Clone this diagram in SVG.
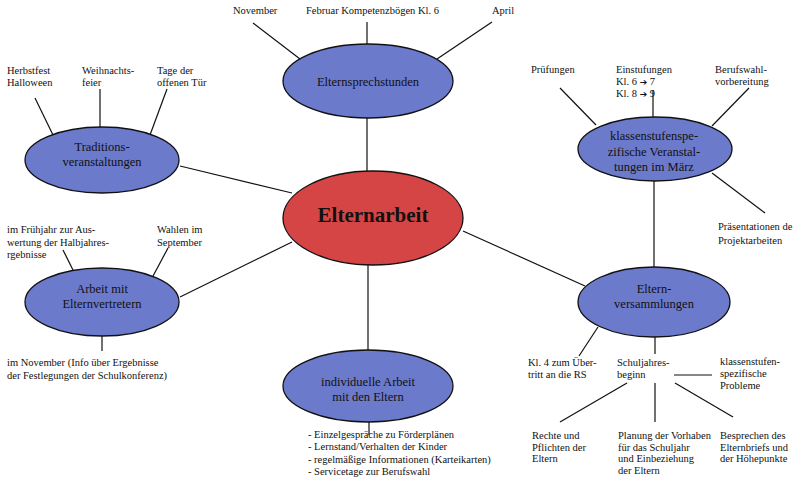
<svg xmlns="http://www.w3.org/2000/svg" width="801" height="481" viewBox="0 0 801 481">
<style>
.n{fill:#6c7acb;stroke:#111;stroke-width:1.3}
.c{fill:#d64545;stroke:#111;stroke-width:1.3}
.l{stroke:#111;stroke-width:1.2;fill:none}
text{font-family:"Liberation Serif","Times New Roman",serif;fill:#111}
.s{font-size:10.5px}
.m{font-size:12.5px;text-anchor:middle}
.b{font-size:21px;font-weight:bold;text-anchor:middle}
.a{font-family:"DejaVu Sans",sans-serif;font-size:9px}
</style>
<rect width="801" height="481" fill="#fff"/>
<g id="connectors">
<line class="l" x1="367" y1="117" x2="367" y2="171"/>
<line class="l" x1="253" y1="23" x2="300" y2="59"/>
<line class="l" x1="367" y1="22" x2="367" y2="44"/>
<line class="l" x1="492" y1="22" x2="437" y2="59"/>
<line class="l" x1="180" y1="166" x2="292" y2="193"/>
<line class="l" x1="35" y1="98" x2="53" y2="135"/>
<line class="l" x1="100" y1="89" x2="100" y2="128"/>
<line class="l" x1="167" y1="89" x2="150" y2="135"/>
<line class="l" x1="180" y1="297" x2="292" y2="242"/>
<line class="l" x1="63" y1="250" x2="73" y2="270"/>
<line class="l" x1="168" y1="248" x2="152" y2="278"/>
<line class="l" x1="102" y1="335" x2="102" y2="351"/>
<line class="l" x1="368" y1="265" x2="368" y2="350"/>
<line class="l" x1="369" y1="422" x2="369" y2="435"/>
<line class="l" x1="463" y1="231" x2="585" y2="286"/>
<line class="l" x1="560" y1="88" x2="596" y2="125"/>
<line class="l" x1="653" y1="90" x2="653" y2="117"/>
<line class="l" x1="749" y1="88" x2="712" y2="126"/>
<line class="l" x1="712" y1="173" x2="765" y2="213"/>
<line class="l" x1="654" y1="181" x2="654" y2="267"/>
<line class="l" x1="598" y1="327" x2="579" y2="356"/>
<line class="l" x1="655" y1="337" x2="655" y2="354"/>
<line class="l" x1="674" y1="375" x2="712" y2="375"/>
<line class="l" x1="627" y1="383" x2="560" y2="422"/>
<line class="l" x1="655" y1="383" x2="655" y2="422"/>
<line class="l" x1="675" y1="383" x2="733" y2="417"/>
</g>
<g id="elternarbeit">
<ellipse class="c" cx="373" cy="218" rx="90" ry="47"/>
<text class="b" x="373" y="222">Elternarbeit</text>
</g>
<g id="elternsprechstunden">
<ellipse class="n" cx="368" cy="81" rx="85" ry="37"/>
<text class="m" x="368" y="86">Elternsprechstunden</text>
</g>
<g id="traditionsveranstaltungen">
<ellipse class="n" cx="102" cy="160" rx="77" ry="33"/>
<text class="m" x="102" y="151">Traditions-</text>
<text class="m" x="102" y="166">veranstaltungen</text>
</g>
<g id="klassenstufen">
<ellipse class="n" cx="655" cy="149" rx="77" ry="32"/>
<text class="m" x="654" y="140">klassenstufenspe-</text>
<text class="m" x="654" y="156">zifische Veranstal-</text>
<text class="m" x="654" y="171">tungen im März</text>
</g>
<g id="elternvertreter">
<ellipse class="n" cx="102" cy="302" rx="77" ry="34"/>
<text class="m" x="102" y="293">Arbeit mit</text>
<text class="m" x="102" y="308">Elternvertretern</text>
</g>
<g id="individuelle">
<ellipse class="n" cx="368" cy="386" rx="85" ry="36"/>
<text class="m" x="368" y="386">individuelle Arbeit</text>
<text class="m" x="368" y="401">mit den Eltern</text>
</g>
<g id="elternversammlungen">
<ellipse class="n" cx="654" cy="302" rx="76" ry="35"/>
<text class="m" x="654" y="293">Eltern-</text>
<text class="m" x="654" y="308">versammlungen</text>
</g>
<g id="labels" class="s">
<text x="233" y="14">November</text>
<text x="306" y="14">Februar Kompetenzbögen Kl. 6</text>
<text x="492" y="14">April</text>
<text x="7" y="74">Herbstfest</text>
<text x="7" y="86">Halloween</text>
<text x="82" y="74">Weihnachts-</text>
<text x="82" y="86">feier</text>
<text x="157" y="74">Tage der</text>
<text x="157" y="86">offenen Tür</text>
<text x="531" y="73">Prüfungen</text>
<text x="616" y="73">Einstufungen</text>
<text x="616" y="85">Kl. 6 <tspan class="a">➔</tspan> 7</text>
<text x="616" y="97">Kl. 8 <tspan class="a">➔</tspan> 9</text>
<text x="715" y="73">Berufswahl-</text>
<text x="715" y="85">vorbereitung</text>
<text x="718" y="230">Präsentationen de</text>
<text x="718" y="244">Projektarbeiten</text>
<text x="7" y="233">im Frühjahr zur Aus-</text>
<text x="7" y="246">wertung der Halbjahres-</text>
<text x="7" y="258">rgebnisse</text>
<text x="157" y="233">Wahlen im</text>
<text x="157" y="246">September</text>
<text x="7" y="366">im November (Info über Ergebnisse</text>
<text x="7" y="379">der Festlegungen der Schulkonferenz)</text>
<text x="308" y="438">- Einzelgespräche zu Förderplänen</text>
<text x="308" y="450">- Lernstand/Verhalten der Kinder</text>
<text x="308" y="463">- regelmäßige Informationen (Karteikarten)</text>
<text x="308" y="475">- Servicetage zur Berufswahl</text>
<text x="528" y="366">Kl. 4 zum Über-</text>
<text x="528" y="378">tritt an die RS</text>
<text x="617" y="366">Schuljahres-</text>
<text x="617" y="378">beginn</text>
<text x="720" y="365">klassenstufen-</text>
<text x="720" y="377">spezifische</text>
<text x="720" y="389">Probleme</text>
<text x="532" y="439">Rechte und</text>
<text x="532" y="451">Pflichten der</text>
<text x="532" y="462">Eltern</text>
<text x="618" y="439">Planung der Vorhaben</text>
<text x="618" y="451">für das Schuljahr</text>
<text x="618" y="462">und Einbeziehung</text>
<text x="618" y="474">der Eltern</text>
<text x="720" y="439">Besprechen des</text>
<text x="720" y="451">Elternbriefs und</text>
<text x="720" y="462">der Höhepunkte</text>
</g>
</svg>
